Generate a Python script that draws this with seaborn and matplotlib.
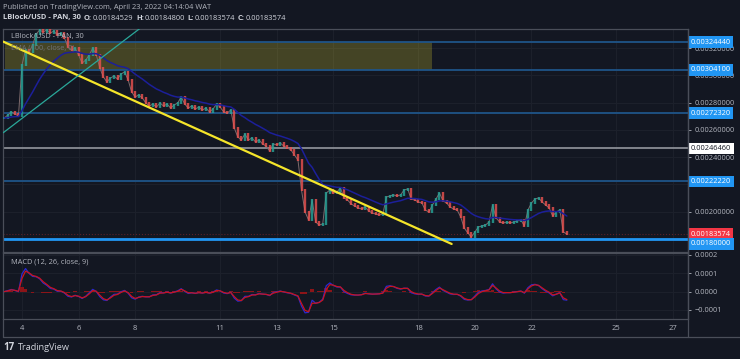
import numpy as np
import pandas as pd
import matplotlib.pyplot as plt
import seaborn as sns
from matplotlib.lines import Line2D

# LBlock/USD 30-min chart, closing prices every 3 hours
start = "2022-04-03 09:00"
closes = [
    0.002688, 0.002710, 0.002732, 0.002717, 0.002702, 0.003077, 0.003187, 0.003172,
    0.003223, 0.003304, 0.003334, 0.003319, 0.003334, 0.003311, 0.003326, 0.003297,
    0.003311, 0.003275, 0.003209, 0.003187, 0.003201, 0.003150, 0.003091, 0.003113,
    0.003150, 0.003201, 0.003150, 0.003055, 0.002989, 0.002952, 0.002981, 0.002996,
    0.002974, 0.003011, 0.003026, 0.002967, 0.002878, 0.002842, 0.002857, 0.002835,
    0.002798, 0.002776, 0.002790, 0.002768, 0.002798, 0.002776, 0.002790, 0.002761,
    0.002783, 0.002798, 0.002842, 0.002790, 0.002761, 0.002776, 0.002754, 0.002768,
    0.002746, 0.002761, 0.002732, 0.002754, 0.002790, 0.002768, 0.002732, 0.002724,
    0.002746, 0.002614, 0.002548, 0.002526, 0.002570, 0.002526, 0.002541, 0.002512,
    0.002526, 0.002497, 0.002482, 0.002445, 0.002497, 0.002490, 0.002504, 0.002482,
    0.002468, 0.002453, 0.002416, 0.002379, 0.002159, 0.001998, 0.001939, 0.002086,
    0.001924, 0.001902, 0.001910, 0.002137, 0.002159, 0.002137, 0.002145, 0.002174,
    0.002101, 0.002086, 0.002057, 0.002042, 0.002027, 0.002020, 0.002034, 0.002005,
    0.001990, 0.001983, 0.001976, 0.001983, 0.002108, 0.002115, 0.002123, 0.002115,
    0.002123, 0.002159, 0.002167, 0.002093, 0.002086, 0.002071, 0.002064, 0.002012,
    0.001998, 0.002049, 0.002093, 0.002137, 0.002079, 0.002064, 0.002034, 0.002020,
    0.002012, 0.001961, 0.001880, 0.001844, 0.001814, 0.001851, 0.001888, 0.001895,
    0.001902, 0.001924, 0.002049, 0.001954, 0.001924, 0.001917, 0.001924, 0.001917,
    0.001924, 0.001932, 0.001939, 0.001895, 0.002012, 0.002064, 0.002093, 0.002101,
    0.002071, 0.002049, 0.002027, 0.001968, 0.001998, 0.002012, 0.001851, 0.00183574,
]

# drawn levels
blue_levels = [0.00324440, 0.00304100, 0.00272320, 0.00222220]
white_level = 0.00246460
support_level = 0.00180000
last_price = 0.00183574
ohlc = [("O:", "0.00184529"), ("H:", "0.00184800"), ("L:", "0.00183574"), ("C:", "0.00183574")]

# supply zone and trend lines (day of April, price)
zone_days = [3.40, 18.50]
zone_prices = [0.00304100, 0.00324440]
down_days = [3.34, 19.18]
down_prices = [0.003248, 0.001763]
up_days = [3.34, 8.50]
up_prices = [0.002580, 0.003398]

date_ticks = [4, 6, 8, 11, 13, 15, 18, 20, 22, 25, 27]
grid_prices = [0.0018, 0.0020, 0.0022, 0.0024, 0.0026, 0.0028, 0.0030, 0.0032]
label_prices = [0.0020, 0.0024, 0.0026, 0.0028, 0.0030, 0.0032]
macd_ticks = [-0.0001, 0.0, 0.0001, 0.0002]

BG = "#131722"
GRID = "#1c202b"
BORDER = "#4a4e59"
TXT = "#b2b5be"
UP = "#26a69a"
DOWN = "#ef5350"

sns.set_theme(style="dark", rc={"axes.facecolor": BG, "figure.facecolor": BG,
                                "axes.edgecolor": BORDER, "grid.color": GRID})
plt.rcParams["font.family"] = ["Open Sans", "DejaVu Sans"]

# build the frame
t = pd.date_range(start, periods=len(closes), freq="3h")
df = pd.DataFrame({"close": closes})
df["day"] = t.day + t.hour / 24
df["open"] = df["close"].shift(1).fillna(df["close"])
# EMA 100 and MACD(12, 26, 9) on 30-min bars, scaled to the 3-hour steps
a = lambda n: 1 - (1 - 2 / (n + 1)) ** 6
df["ema"] = df["close"].ewm(alpha=a(100), adjust=False).mean()
df["macd"] = (df["close"].ewm(alpha=a(12), adjust=False).mean()
              - df["close"].ewm(alpha=a(26), adjust=False).mean())
df["signal"] = df["macd"].ewm(alpha=a(9), adjust=False).mean()
df["hist"] = df["macd"] - df["signal"]

W, H = 740, 359
fig = plt.figure(figsize=(W / 100, H / 100), dpi=100)
ax1 = fig.add_axes([3 / W, 1 - 252 / H, 685 / W, 223 / H])
ax2 = fig.add_axes([3 / W, 1 - 319 / H, 685 / W, 66.5 / H])

# ---- price panel
ax1.fill_between(zone_days, zone_prices[0], zone_prices[1], color="#d8cc30", alpha=0.25, lw=0, zorder=1)
# thin trace through the closes, then candle bodies on top
sns.lineplot(data=df, x="day", y="close", ax=ax1, color="#7d6a6c", lw=0.7, zorder=3)
lo = np.minimum(df["open"], df["close"]) - 6e-6
hi = np.maximum(df["open"], df["close"]) + 6e-6
cols = np.where(df["close"] >= df["open"], UP, DOWN)
ax1.vlines(df["day"], lo, hi, colors=cols, lw=1.7, alpha=0.8, zorder=3)
sns.lineplot(data=df, x="day", y="ema", ax=ax1, color="#1c1f9a", lw=1.1, zorder=4)

for lv in blue_levels:
    ax1.axhline(lv, color="#1f5488", lw=1.3, zorder=2)
ax1.axhline(white_level, color="#8a8d95", lw=1.3, zorder=2)
ax1.axhline(support_level, color="#2196f3", lw=2, zorder=2)
ax1.axhline(last_price, color="#5a2028", lw=0.8, ls=":", zorder=2)
ax1.plot(down_days, down_prices, color="#f5e52a", lw=1.6, zorder=5)
ax1.plot(up_days, up_prices, color="#2aa89a", lw=0.9, zorder=5)

ax1.set_xlim(3.329, 27.53)
ax1.set_ylim(0.001704, 0.003341)
ax1.set_xticks(date_ticks)
ax1.set_yticks(grid_prices)
ax1.yaxis.tick_right()
ax1.set_yticklabels([f"{v:.8f}" if v in label_prices else "" for v in grid_prices])
ax1.tick_params(axis="x", labelbottom=False, length=0)
ax1.tick_params(axis="y", labelsize=5.3, colors=TXT, length=2, pad=3, width=0.6)
ax1.grid(True, color=GRID, lw=0.8)
ax1.set_xlabel("")
ax1.set_ylabel("")


def tag(ax, v, fc, tc, dy=0):
    ax.annotate(f"{v:.8f}", xy=(1, v), xycoords=("axes fraction", "data"),
                xytext=(2.2, dy), textcoords="offset points", ha="left", va="center",
                fontsize=5.3, color=tc, zorder=10, annotation_clip=False,
                bbox=dict(boxstyle="square,pad=0.3", fc=fc, ec="none"))


for lv in blue_levels:
    tag(ax1, lv, "#2196f3", "white")
tag(ax1, white_level, "white", "#131722")
tag(ax1, last_price, "#f23645", "white")
tag(ax1, support_level, "#2196f3", "white", dy=-3.6)

ax1.text(0.011, 0.965, "LBlock/USD - PAN, 30", transform=ax1.transAxes, fontsize=5.3,
         color=TXT, va="center", zorder=6)
ax1.text(0.011, 0.915, "EMA (100, close, 0)", transform=ax1.transAxes, fontsize=5.3,
         color="#6f727b", va="center", zorder=6)

# ---- MACD panel
ax2.bar(df["day"], df["hist"], width=0.125, color="#8c1418", lw=0, zorder=2)
sns.lineplot(data=df, x="day", y="macd", ax=ax2, color="#2a2ad0", lw=0.9, zorder=3)
sns.lineplot(data=df, x="day", y="signal", ax=ax2, color="#c8141e", lw=0.9, zorder=4)
ax2.set_xlim(3.329, 27.53)
ax2.set_ylim(-0.000149, 0.000213)
ax2.set_xticks(date_ticks)
ax2.set_xticklabels([str(d) for d in date_ticks])
ax2.set_yticks(macd_ticks)
ax2.set_yticklabels(["\u22120.0001", "0.0000", "0.0001", "0.0002"])
ax2.yaxis.tick_right()
ax2.tick_params(axis="x", labelsize=5.5, colors=TXT, length=0, pad=4.5)
ax2.tick_params(axis="y", labelsize=5.3, colors=TXT, length=2, pad=3, width=0.6)
ax2.grid(True, color=GRID, lw=0.8)
ax2.set_xlabel("")
ax2.set_ylabel("")
ax2.text(0.011, 0.86, "MACD (12, 26, close, 9)", transform=ax2.transAxes, fontsize=5.3,
         color=TXT, va="center", zorder=6)

for ax in (ax1, ax2):
    for s in ax.spines.values():
        s.set_color(BORDER)
        s.set_linewidth(0.9)

# frame lines for the time scale and price scale
fig.add_artist(Line2D([3 / W, 1], [1 - 337 / H] * 2, color=BORDER, lw=0.9))
fig.add_artist(Line2D([688 / W] * 2, [1 - 337 / H, 1 - 29 / H], color=BORDER, lw=0.9))
fig.add_artist(Line2D([3 / W] * 2, [1 - 337 / H, 1 - 319 / H], color=BORDER, lw=0.9))

# header
fig.text(3 / W, 1 - 7.5 / H, "Published on TradingView.com, April 23, 2022 04:14:04 WAT",
         fontsize=5.4, color=TXT, va="center")
prev = fig.text(3 / W, 1 - 18 / H, "LBlock/USD - PAN, 30", fontsize=5.4,
                color="#d1d4dc", va="center", weight="bold")
for lab, val in ohlc:
    prev = ax1.annotate(lab, xy=(1, 0.5), xycoords=prev, xytext=(2.2, 0),
                        textcoords="offset points", ha="left", va="center", fontsize=5.4,
                        color="#d1d4dc", weight="bold", annotation_clip=False)
    prev = ax1.annotate(val, xy=(1, 0.5), xycoords=prev, xytext=(0.3, 0),
                        textcoords="offset points", ha="left", va="center", fontsize=5.4,
                        color="#d1d4dc", annotation_clip=False)

# watermark
fig.text(3 / W, 1 - 348 / H, "17", fontsize=7, color="#d1d4dc", weight="bold", va="center")
fig.text(18 / W, 1 - 348 / H, "TradingView", fontsize=6.6, color="#d1d4dc", va="center")

fig.savefig("out.png", dpi=100, facecolor=BG)
